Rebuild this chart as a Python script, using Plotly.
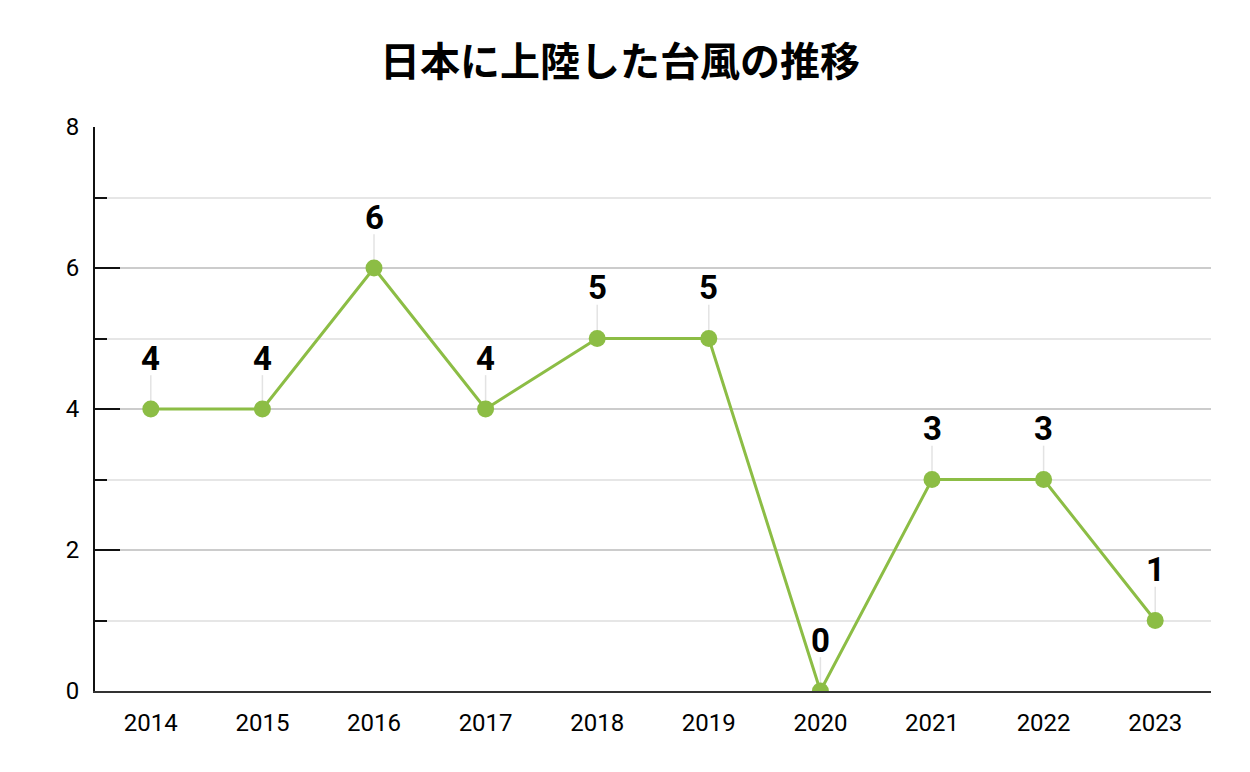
import plotly.graph_objects as go

years = ["2014", "2015", "2016", "2017", "2018", "2019", "2020", "2021", "2022", "2023"]
counts = [4, 4, 6, 4, 5, 5, 0, 3, 3, 1]
title_text = "日本に上陸した台風の推移"

line_color = "#8cbd45"

fig = go.Figure()
fig.add_trace(go.Scatter(
    x=years, y=counts, mode="lines+markers",
    line=dict(color=line_color, width=3),
    marker=dict(color=line_color, size=17),
    error_y=dict(type="data", symmetric=False, array=[0.48] * len(counts),
                 arrayminus=[0] * len(counts), color="#e3e3e3", thickness=1.5, width=0),
    hoverinfo="x+y", showlegend=False,
))

for i, c in enumerate(counts):
    fig.add_annotation(x=i, y=c, xref="x", yref="y", text=f"<b>{c}</b>", showarrow=False,
                       yshift=51, font=dict(size=33, color="#000000",
                                            family="Roboto, Liberation Sans, sans-serif"))

fig.update_layout(
    width=1250, height=772,
    margin=dict(l=95, r=39, t=127, b=81),
    paper_bgcolor="white", plot_bgcolor="white",
    title=dict(text=f"<b>{title_text}</b>", x=0.496, xanchor="center", y=0.92, yanchor="middle",
               font=dict(size=40, color="#000000", family="Noto Sans CJK JP")),
    font=dict(family="Roboto, Liberation Sans, Arial, sans-serif", color="#000000"),
)

fig.update_xaxes(
    type="category", range=[-0.5, 9.5],
    showgrid=False, showline=True, linecolor="#333333", linewidth=1.5,
    ticks="", tickfont=dict(size=24), ticklabelstandoff=9,
    zeroline=False,
)
fig.update_yaxes(
    range=[0, 8], dtick=2, tick0=0,
    showline=True, linecolor="#111111", linewidth=2,
    ticks="inside", ticklen=25, tickwidth=2, tickcolor="#111111",
    gridcolor="#cccccc", gridwidth=1.5,
    tickfont=dict(size=24), ticklabelstandoff=9,
    zeroline=False,
    minor=dict(dtick=1, tick0=0, ticks="inside", ticklen=12, tickwidth=2, tickcolor="#111111",
               showgrid=True, gridcolor="#e6e6e6", gridwidth=1.5),
)

fig.write_html("out.html")
